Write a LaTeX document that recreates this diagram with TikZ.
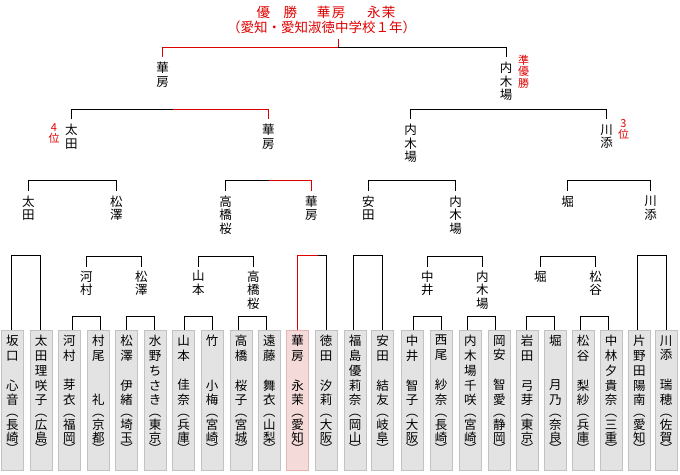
\documentclass[tikz,border=0pt]{standalone}
\usepackage{fontspec}
\newfontfamily\jpfont{Noto Sans CJK JP}
\definecolor{winred}{HTML}{E00000}
\definecolor{boxfill}{HTML}{E3E3E3}
\definecolor{boxedge}{HTML}{C2C2C2}
\definecolor{winfill}{HTML}{F5DADA}
\definecolor{winedge}{HTML}{E2B4B4}
\tikzset{
  ln/.style={draw=black,line width=1pt},
  redln/.style={draw=winred,line width=1pt},
  lbl/.style={font=\jpfont\fontsize{12.5}{13.5}\selectfont,align=center,inner sep=0pt,anchor=north,
    execute at begin node={\rule{0pt}{10.5pt}}},
  rank/.style={font=\jpfont\fontsize{11}{11.5}\selectfont,text=winred,align=center,inner sep=0pt,anchor=north},
  pbox/.style={draw=boxedge,fill=boxfill,line width=1pt,minimum width=22pt,minimum height=140pt,inner sep=0pt,anchor=north},
  wbox/.style={pbox,draw=winedge,fill=winfill},
  pname/.style={font=\jpfont\fontsize{12.5}{14.8}\selectfont,align=center,inner sep=0pt,anchor=north,
    execute at begin node={\rule{0pt}{10.5pt}}},
  ppref/.style={font=\jpfont\fontsize{12.5}{13}\selectfont,align=center,inner sep=0pt,anchor=north},
  ttl/.style={font=\jpfont\fontsize{13.5}{15}\selectfont,text=winred,inner sep=0pt,anchor=base},
}
% one entrant: box, name column, prefecture column
\newcommand{\player}[6][pbox]{%
  \node[#1] (p#2) at (#3,330) {};
  \node[pname] (n#2) at ([yshift=-5pt]p#2.north) {#4};
  \node[ppref] (r#2) at ([yshift=-84pt]p#2.north) {︵\\#5\\#6\\[-2pt]︶};
}
% bracket between two points: drops at both ends, bar at ytop
\newcommand{\brk}[5][ln]{\draw[#1] (#2 |- 0,#5) |- (#3 |- 0,#4) -- (#3 |- 0,#5);}
\begin{document}
\begin{tikzpicture}[x=1pt,y=-1pt]
\useasboundingbox (0,0) rectangle (680,474);
\fill[white] (0,0) rectangle (680,474);

% title
\node[ttl] (t1) at (326,17.5) {優\hspace{13.5pt}勝\hspace{20pt}華\hspace{1.5pt}房\hspace{21.5pt}永\hspace{1.5pt}茉};
\node[ttl] (t2) at (321.7,32.5) {（愛知・愛知淑徳中学校１年）};

% entrants
\player{1}{12.3}{坂\\口\\　\\心\\音}{長}{崎}
\player{2}{41}{太\\田\\理\\咲\\子}{広}{島}
\player{3}{69.3}{河\\村\\　\\芽\\衣}{福}{岡}
\player{4}{98.3}{村\\尾\\　\\　\\礼}{京}{都}
\player{5}{126.7}{松\\澤\\　\\伊\\緒}{埼}{玉}
\player{6}{155}{水\\野\\ち\\さ\\き}{東}{京}
\player{7}{183.7}{山\\本\\　\\佳\\奈}{兵}{庫}
\player{8}{212}{竹\\　\\　\\小\\梅}{宮}{崎}
\player{9}{241}{高\\橋\\　\\桜\\子}{宮}{城}
\player{10}{269.3}{遠\\藤\\　\\舞\\衣}{山}{梨}
\player[wbox]{11}{297.7}{華\\房\\　\\永\\茉}{愛}{知}
\player{12}{326}{徳\\田\\　\\汐\\莉}{大}{阪}
\player{13}{355}{福\\島\\優\\莉\\奈}{岡}{山}
\player{14}{382.7}{安\\田\\　\\結\\友}{岐}{阜}
\player{15}{412}{中\\井\\　\\智\\子}{大}{阪}
\player{16}{441}{西\\尾\\　\\紗\\奈}{長}{崎}
\player{17}{470.3}{内\\木\\場\\千\\咲}{宮}{崎}
\player{18}{499.3}{岡\\安\\　\\智\\愛}{静}{岡}
\player{19}{527}{岩\\田\\　\\弓\\芽}{東}{京}
\player{20}{555.3}{堀\\　\\　\\月\\乃}{奈}{良}
\player{21}{583}{松\\谷\\　\\梨\\紗}{兵}{庫}
\player{22}{611}{中\\林\\夕\\貴\\奈}{三}{重}
\player{23}{639.3}{片\\野\\田\\陽\\南}{愛}{知}
\player{24}{666}{川\\添\\　\\瑞\\穂}{佐}{賀}

% attachment points on the box tops
\foreach \i/\t in {1/11.7,2/40.3,3/72.7,4/100.3,5/126.3,6/154.3,7/184.3,8/212.3,
  9/238.7,10/266.3,11/297.3,12/326.3,13/353.3,14/382.3,15/413.3,16/441.3,
  17/467.3,18/495.3,19/526.3,20/554.3,21/580.3,22/608.3,23/637.3,24/666.3}
  {\coordinate (k\i) at (\t,330);}

% round of 16 winners
\node[lbl] (ra) at (86.3,270.5) {河\\村};
\node[lbl] (rb) at (141.3,270.5) {松\\澤};
\node[lbl] (rc) at (198.3,270.5) {山\\本};
\node[lbl] (rd) at (253.3,270.5) {高\\橋\\桜};
\node[lbl] (re) at (427.3,270.5) {中\\井};
\node[lbl] (rf) at (482.3,270.5) {内\\木\\場};
\node[lbl] (rg) at (540.3,270.5) {堀};
\node[lbl] (rh) at (595.7,270.5) {松\\谷};

% quarter-final entrants
\node[lbl] (q1) at (28.3,195.5) {太\\田};
\node[lbl] (q2) at (116.3,195.5) {松\\澤};
\node[lbl] (q3) at (225.7,195.5) {高\\橋\\桜};
\node[lbl] (q4) at (311.3,195.5) {華\\房};
\node[lbl] (q5) at (368.3,195.5) {安\\田};
\node[lbl] (q6) at (455.7,195.5) {内\\木\\場};
\node[lbl] (q7) at (567.7,195.5) {堀};
\node[lbl] (q8) at (650.7,195.5) {川\\添};

% semi-final entrants
\node[lbl] (s1) at (71.3,124) {太\\田};
\node[lbl] (s2) at (268.3,124) {華\\房};
\node[lbl] (s3) at (410.7,124) {内\\木\\場};
\node[lbl] (s4) at (606.7,124) {川\\添};
\node[rank] (rk4) at (54,123.3) {4\\位};
\node[rank] (rk3) at (623.5,119.3) {3\\位};

% finalists
\node[lbl] (f1) at (162.5,62) {華\\房};
\node[lbl] (f2) at (506,62) {内\\木\\場};
\node[rank] (rk2) at (523.5,55) {準\\優\\勝};

% first round
\brk{k3}{k4}{316}{330}
\brk{k5}{k6}{316}{330}
\brk{k7}{k8}{316}{330}
\brk{k9}{k10}{316}{330}
\brk{k15}{k16}{316}{330}
\brk{k17}{k18}{316}{330}
\brk{k19}{k20}{316}{330}
\brk{k21}{k22}{316}{330}

% tall brackets straight into the quarter-finals
\brk{k1}{k2}{255.3}{330}
\brk{k13}{k14}{255.3}{330}
\brk{k23}{k24}{255.3}{330}
\coordinate (m16) at (317.7,255.3);
\draw[redln] (k11) |- (m16);
\draw[ln] (m16) -| (k12);

% round of 16
\brk{ra}{rb}{256.7}{266.7}
\brk{rc}{rd}{256.7}{266.7}
\brk{re}{rf}{256.7}{266.7}
\brk{rg}{rh}{256.7}{266.7}

% quarter-finals
\brk{q1}{q2}{180.7}{190.7}
\coordinate (mq) at (269.3,180.7);
\draw[ln] (q3 |- 0,190.7) |- (mq);
\draw[redln] (mq) -| (q4 |- 0,190.7);
\brk{q5}{q6}{180.7}{190.7}
\brk{q7}{q8}{180.7}{190.7}

% semi-finals
\coordinate (ms) at (173,109.3);
\draw[ln] (s1 |- 0,119.3) |- (ms);
\draw[redln] (ms) -| (s2 |- 0,119.3);
\brk{s3}{s4}{109.3}{119.3}

% final
\coordinate (mf) at (338,47);
\draw[redln] (f1 |- 0,57) |- (mf);
\draw[ln] (mf) -| (f2 |- 0,57);
\draw[redln] (mf) -- ++(0,-8);
\end{tikzpicture}
\end{document}
